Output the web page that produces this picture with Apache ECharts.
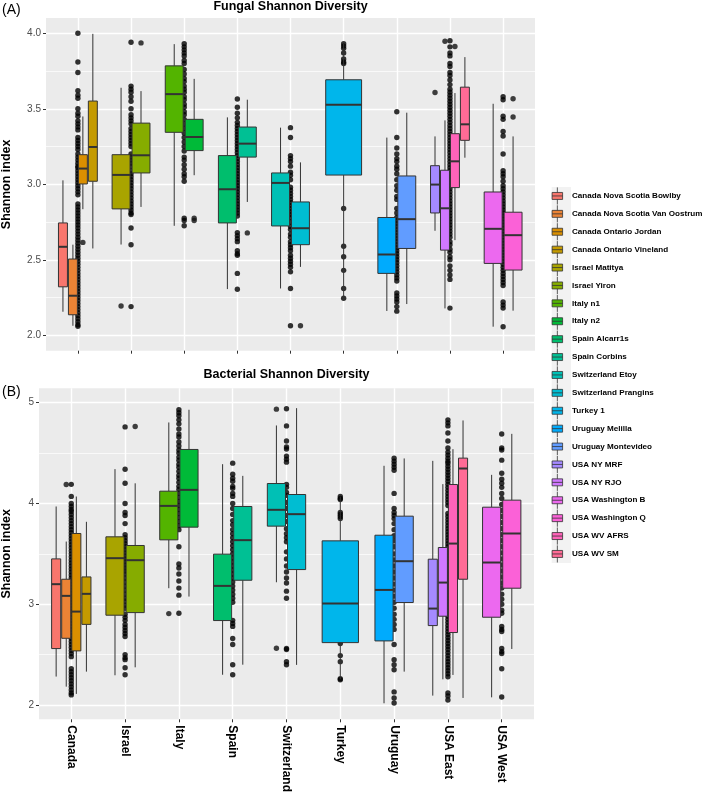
<!DOCTYPE html>
<html><head><meta charset="utf-8">
<script src="https://cdn.jsdelivr.net/npm/echarts@6/dist/echarts.min.js"></script>
<style>html,body{margin:0;padding:0;background:#fff}#c{width:709px;height:794px}</style>
</head><body><div id="c"></div>
<script>
const countries = ['Canada','Israel','Italy','Spain','Switzerland','Turkey','Uruguay','USA East','USA West'];
const sites = ['Canada Nova Scotia Bowlby','Canada Nova Scotia Van Oostrum','Canada Ontario Jordan','Canada Ontario Vineland',
  'Israel Matitya','Israel Yiron','Italy n1','Italy n2','Spain Alcarr1s','Spain Corbins','Switzerland Etoy','Switzerland Prangins',
  'Turkey 1','Uruguay Melilla','Uruguay Montevideo','USA NY MRF','USA NY RJO','USA Washington B','USA Washington Q','USA WV AFRS','USA WV SM'];
const siteCountry = [0,0,0,0,1,1,2,2,3,3,4,4,5,6,6,7,7,8,8,7,7];

const fungalTicks = [2, 2.5, 3, 3.5, 4];
const bacterialTicks = [2, 3, 4, 5];

// [lower whisker, q1, median, q3, upper whisker]
const fungalBox = [
  [2.156,2.321,2.586,2.744,3.026],[2.063,2.136,2.262,2.505,2.600],[2.835,3.002,3.104,3.196,3.449],[2.575,3.020,3.247,3.551,3.996],
  [2.601,2.837,3.062,3.196,3.639],[2.850,3.075,3.192,3.405,3.617],[2.725,3.344,3.597,3.784,3.928],[3.060,3.223,3.313,3.430,3.698],
  [2.306,2.744,2.967,3.190,3.443],[2.883,3.180,3.269,3.379,3.560],[2.310,2.724,3.009,3.075,3.375],[2.453,2.600,2.709,2.883,3.145],
  [2.245,3.061,3.527,3.692,3.930],[2.161,2.410,2.535,2.780,3.309],[2.207,2.575,2.769,3.055,3.474],[2.692,2.810,2.998,3.123,3.317],
  [2.178,2.564,2.841,3.093,3.423],[2.057,2.476,2.705,2.949,3.533],[2.163,2.432,2.663,2.815,3.317],[2.630,2.978,3.152,3.335,3.604],
  [3.176,3.291,3.397,3.643,3.842]
];
const fungalOutliers = [[],[],[2.615],[],[2.194],[3.936],[],[2.775,2.760],[],[2.678],[],[2.063],[],[],[],[3.608],[3.947],[],[3.566,3.445],[3.912],[]];
const fungalPoints = [
  [4.00,3.81,3.74,3.62,3.59,3.57,3.50,3.47,3.45,3.42,3.40,3.38,3.36,3.31,3.29,3.27,3.25,3.23,3.20,3.18,3.16,3.14,3.12,3.11,3.09,3.07,3.05,3.03,3.01,2.99,2.97,2.95,2.93,2.87,2.85,2.83,2.81,2.79,2.77,2.75,2.73,2.71,2.69,2.67,2.65,2.63,2.61,2.59,2.57,2.55,2.53,2.51,2.49,2.47,2.45,2.43,2.41,2.39,2.37,2.35,2.33,2.31,2.29,2.27,2.25,2.23,2.21,2.19,2.17,2.15,2.13,2.11,2.09,2.07,2.06],
  [3.94,3.65,3.63,3.61,3.58,3.55,3.50,3.46,3.44,3.42,3.40,3.37,3.35,3.33,3.31,3.29,3.27,3.25,3.20,3.18,3.16,3.14,3.12,3.09,3.07,3.05,3.03,3.01,2.99,2.97,2.95,2.93,2.91,2.89,2.87,2.85,2.83,2.81,2.80,2.71,2.60,2.19],
  [3.93,3.91,3.89,3.87,3.85,3.82,3.80,3.76,3.73,3.70,3.68,3.65,3.63,3.61,3.58,3.56,3.53,3.51,3.48,3.46,3.43,3.40,3.37,3.34,3.31,3.28,3.25,3.22,3.18,3.16,3.13,3.10,3.07,3.05,3.02,2.775,2.76,2.725],
  [3.565,3.51,3.47,3.44,3.41,3.39,3.37,3.35,3.33,3.31,3.29,3.27,3.25,3.23,3.21,3.19,3.17,3.15,3.13,3.11,3.09,3.07,3.05,3.03,3.01,2.99,2.97,2.95,2.93,2.91,2.89,2.87,2.85,2.83,2.81,2.79,2.68,2.66,2.64,2.62,2.56,2.54,2.53,2.41,2.305],
  [3.375,3.31,3.19,3.17,3.15,3.12,3.08,3.06,3.03,2.98,2.96,2.94,2.92,2.90,2.88,2.86,2.84,2.82,2.80,2.78,2.75,2.72,2.70,2.67,2.65,2.62,2.60,2.58,2.56,2.53,2.51,2.49,2.47,2.45,2.42,2.31,2.063],
  [3.93,3.915,3.90,3.87,3.83,3.81,3.80,3.60,3.40,3.20,2.84,2.59,2.52,2.43,2.31,2.245],
  [3.48,3.31,3.24,3.20,3.17,3.15,3.12,3.10,3.07,3.03,2.99,2.96,2.92,2.90,2.84,2.81,2.78,2.76,2.74,2.72,2.70,2.68,2.66,2.64,2.62,2.60,2.58,2.56,2.54,2.52,2.50,2.48,2.46,2.44,2.42,2.40,2.38,2.36,2.28,2.26,2.24,2.22,2.19,2.16],
  [3.95,3.91,3.87,3.85,3.80,3.78,3.74,3.72,3.69,3.66,3.63,3.61,3.59,3.57,3.55,3.53,3.51,3.49,3.47,3.45,3.43,3.41,3.39,3.37,3.35,3.33,3.31,3.29,3.27,3.25,3.23,3.21,3.19,3.17,3.15,3.13,3.11,3.09,3.07,3.05,3.03,3.01,2.99,2.97,2.95,2.93,2.91,2.89,2.87,2.85,2.83,2.81,2.79,2.77,2.75,2.73,2.71,2.69,2.67,2.65,2.62,2.60,2.57,2.55,2.52,2.50,2.46,2.43,2.40,2.37,2.18],
  [3.58,3.56,3.45,3.43,3.35,3.32,3.20,3.09,3.07,3.05,3.02,2.99,2.97,2.95,2.93,2.91,2.89,2.87,2.85,2.83,2.81,2.79,2.77,2.75,2.73,2.71,2.69,2.67,2.65,2.63,2.61,2.59,2.57,2.55,2.53,2.51,2.49,2.47,2.45,2.43,2.41,2.39,2.37,2.35,2.33,2.22,2.20,2.18,2.057]
];

const bacterialBox = [
  [2.282,2.560,3.199,3.450,3.970],[2.182,2.662,3.083,3.248,3.622],[2.110,2.537,2.927,3.702,4.069],[2.331,2.800,3.103,3.271,3.818],
  [2.295,2.891,3.457,3.669,4.341],[2.374,2.917,3.437,3.583,4.200],[3.159,3.639,3.976,4.122,4.804],[3.076,3.765,4.135,4.536,4.930],
  [2.300,2.838,3.182,3.497,4.390],[2.400,3.238,3.636,3.970,4.274],[3.218,3.775,3.937,4.198,4.774],[2.398,3.344,3.894,4.089,4.946],
  [2.255,2.619,3.007,3.629,4.069],[2.017,2.636,3.142,3.685,4.374],[2.331,3.017,3.427,3.874,4.447],[2.093,2.788,2.957,3.447,4.423],
  [2.255,2.881,3.215,3.563,4.192],[2.076,2.871,3.414,3.963,4.284],[2.556,3.159,3.702,4.033,4.691],[2.298,2.719,3.602,4.188,4.539],
  [2.070,3.248,4.347,4.450,4.824]
];
const bacterialOutliers = [[],[4.188],[],[],[],[4.764],[2.907],[],[],[],[4.936,2.563],[],[],[],[],[],[],[],[],[],[]];
const bacterialPoints = [
  [4.19,4.07,4.00,3.97,3.94,3.92,3.89,3.86,3.83,3.80,3.77,3.74,3.71,3.68,3.65,3.62,3.59,3.56,3.53,3.50,3.47,3.44,3.41,3.38,3.35,3.32,3.29,3.26,3.23,3.20,3.17,3.14,3.11,3.08,3.05,3.02,2.99,2.96,2.93,2.90,2.87,2.84,2.81,2.78,2.75,2.72,2.69,2.66,2.63,2.60,2.57,2.54,2.51,2.48,2.36,2.33,2.30,2.27,2.24,2.21,2.18,2.15,2.12,2.10],
  [4.76,4.34,4.20,4.00,3.91,3.88,3.80,3.69,3.66,3.63,3.60,3.57,3.54,3.51,3.48,3.45,3.42,3.39,3.36,3.33,3.30,3.26,3.22,3.18,3.14,3.10,3.06,3.03,2.99,2.96,2.90,2.87,2.84,2.80,2.77,2.74,2.71,2.68,2.50,2.47,2.45,2.37,2.30],
  [4.93,4.90,4.87,4.83,4.79,4.74,4.69,4.66,4.61,4.57,4.53,4.50,4.46,4.43,4.39,4.36,4.32,4.28,4.25,4.21,4.17,4.14,4.10,4.06,4.02,3.98,3.94,3.90,3.86,3.82,3.78,3.74,3.57,3.40,3.36,3.30,3.23,3.16,3.09,2.91],
  [4.40,4.29,4.25,4.22,4.17,4.15,4.10,4.07,4.00,3.95,3.89,3.83,3.79,3.74,3.70,3.66,3.62,3.58,3.54,3.50,3.46,3.42,3.38,3.34,3.30,3.26,3.22,3.18,3.14,3.10,3.06,3.02,2.84,2.81,2.78,2.66,2.60,2.40,2.30],
  [4.94,4.77,4.62,4.56,4.54,4.47,4.44,4.41,4.19,4.16,4.11,4.08,4.01,3.95,3.88,3.82,3.75,3.70,3.66,3.62,3.52,3.45,3.38,3.32,3.26,3.21,3.13,3.06,2.56,2.55,2.43,2.40],
  [4.07,4.05,4.04,3.91,3.89,3.87,3.85,3.50,3.20,2.80,2.61,2.49,2.43,2.26,2.25],
  [4.45,4.42,4.39,4.36,4.33,4.10,3.95,3.91,3.88,3.85,3.80,3.74,3.68,3.63,3.57,3.50,3.44,3.38,3.32,3.26,3.20,3.14,3.08,3.02,2.96,2.90,2.85,2.80,2.75,2.60,2.45,2.40,2.35,2.13,2.07,2.02],
  [4.83,4.80,4.77,4.70,4.62,4.55,4.51,4.48,4.45,4.42,4.40,4.37,4.34,4.31,4.28,4.25,4.22,4.19,4.16,4.13,4.10,4.07,4.04,4.01,3.98,3.90,3.87,3.84,3.81,3.78,3.75,3.72,3.69,3.66,3.63,3.60,3.57,3.54,3.51,3.48,3.45,3.42,3.39,3.36,3.33,3.30,3.27,3.24,3.21,3.18,3.15,3.12,3.09,3.06,3.03,3.00,2.97,2.94,2.91,2.88,2.85,2.82,2.79,2.76,2.73,2.70,2.67,2.64,2.61,2.58,2.55,2.52,2.49,2.46,2.43,2.40,2.37,2.34,2.31,2.28,2.12,2.09,2.05],
  [4.69,4.55,4.53,4.43,4.30,4.24,4.20,4.16,4.10,4.05,3.99,3.93,3.87,3.81,3.75,3.69,3.63,3.57,3.51,3.45,3.39,3.33,3.27,3.21,3.16,3.10,3.05,3.00,2.94,2.91,2.78,2.75,2.73,2.56,2.53,2.51,2.36,2.08]
];

// ggplot2 default hue palette (hcl, c=100, l=65)
function hcl(h) {
  const L = 65, C = 100, hr = h * Math.PI / 180;
  const U = C * Math.cos(hr), V = C * Math.sin(hr);
  const Y = Math.pow((L + 16) / 116, 3);
  const Xn = 0.95047, Yn = 1, Zn = 1.08883;
  const den = Xn + 15 * Yn + 3 * Zn, un = 4 * Xn / den, vn = 9 * Yn / den;
  const u = U / (13 * L) + un, v = V / (13 * L) + vn;
  const X = 9 * Y * u / (4 * v), Z = Y * (12 - 3 * u - 20 * v) / (4 * v);
  const lin = [3.2406*X - 1.5372*Y - 0.4986*Z, -0.9689*X + 1.8758*Y + 0.0415*Z, 0.0557*X - 0.2040*Y + 1.0570*Z];
  return '#' + lin.map(c => {
    c = c <= 0.0031308 ? 12.92 * c : 1.055 * Math.pow(c, 1 / 2.4) - 0.055;
    return Math.round(Math.max(0, Math.min(1, c)) * 255).toString(16).padStart(2, '0');
  }).join('');
}
const colors = sites.map((s, i) => hcl(15 + 360 * i / sites.length));

// dodge layout (width 0.75, padding 0.1)
const DODGE = 0.75, PAD = 0.1;
const nPer = countries.map((c, ci) => siteCountry.filter(x => x === ci).length);
const slot = siteCountry.map((ci, si) => siteCountry.slice(0, si).filter(x => x === ci).length);
function siteX(si) {
  const ci = siteCountry[si], w = DODGE / nPer[ci];
  return { x: ci + 1 - DODGE / 2 + (slot[si] + 0.5) * w, w: w * (1 - PAD) };
}

const FONT = '"Liberation Sans", Arial, Helvetica, sans-serif';
const STROKE = '#333333';

function boxSeries(g, stats) {
  return sites.map((name, si) => ({
    type: 'custom', name, xAxisIndex: g, yAxisIndex: g, z: 3,
    itemStyle: { color: colors[si] },
    encode: { x: 0, y: [1, 2, 3, 4, 5] },
    data: [[siteX(si).x].concat(stats[si])],
    renderItem(params, api) {
      const x = api.value(0), hw = siteX(si).w / 2;
      const lo = api.coord([x, api.value(1)]), q1 = api.coord([x, api.value(2)]);
      const md = api.coord([x, api.value(3)]), q3 = api.coord([x, api.value(4)]);
      const hi = api.coord([x, api.value(5)]);
      const xl = api.coord([x - hw, api.value(3)])[0], xr = api.coord([x + hw, api.value(3)])[0];
      const cx = lo[0];
      const ls = { stroke: STROKE, lineWidth: 1 };
      return { type: 'group', children: [
        { type: 'line', shape: { x1: cx, y1: hi[1], x2: cx, y2: q3[1] }, style: ls },
        { type: 'line', shape: { x1: cx, y1: q1[1], x2: cx, y2: lo[1] }, style: ls },
        { type: 'rect', shape: { x: xl, y: q3[1], width: xr - xl, height: q1[1] - q3[1] }, style: { fill: colors[si], stroke: STROKE, lineWidth: 1 } },
        { type: 'line', shape: { x1: xl, y1: md[1], x2: xr, y2: md[1] }, style: { stroke: STROKE, lineWidth: 2 } }
      ] };
    }
  }));
}
function pointSeries(g, pts) {
  const data = [];
  pts.forEach((arr, ci) => arr.forEach(v => data.push([ci + 1, v])));
  return { type: 'scatter', xAxisIndex: g, yAxisIndex: g, z: 2, symbolSize: 5.4, silent: true,
    itemStyle: { color: '#000' }, data };
}
function outlierSeries(g, outs) {
  const data = [];
  outs.forEach((arr, si) => arr.forEach(v => data.push([siteX(si).x, v])));
  return { type: 'scatter', xAxisIndex: g, yAxisIndex: g, z: 4, symbolSize: 5.4, silent: true,
    itemStyle: { color: '#111' }, data };
}

const catTicks = countries.map((c, i) => i + 1);
function xAxis(g, showLabels) {
  return {
    type: 'value', gridIndex: g, min: 0.4, max: 9.6,
    axisLine: { show: false },
    axisTick: { show: true, length: 3, customValues: catTicks, lineStyle: { color: STROKE, width: 1 } },
    axisLabel: { show: showLabels, customValues: catTicks, formatter: v => countries[Math.round(v) - 1],
      rotate: -90, margin: 6, fontSize: 12, fontWeight: 'bold', color: '#000', fontFamily: FONT },
    splitLine: { show: true, lineStyle: { color: '#fff', width: 1.4 } }
  };
}
function yAxis(g, min, max, ticks, fmt, gap) {
  return {
    type: 'value', gridIndex: g, min, max, splitNumber: 4,
    name: 'Shannon index', nameLocation: 'middle', nameGap: gap,
    nameTextStyle: { fontSize: 12.5, fontWeight: 'bold', color: '#000', fontFamily: FONT },
    axisLine: { show: false },
    axisTick: { show: true, length: 3, customValues: ticks, lineStyle: { color: STROKE, width: 1 } },
    axisLabel: { customValues: ticks, formatter: fmt, margin: 5, fontSize: 10, color: '#4D4D4D', fontFamily: FONT,
      showMinLabel: true, showMaxLabel: true },
    splitLine: { show: true, lineStyle: { color: '#fff', width: 1.4 } },
    minorTick: { show: false, splitNumber: 2 },
    minorSplitLine: { show: true, lineStyle: { color: '#fff', width: 0.7 } }
  };
}

const chart = echarts.init(document.getElementById('c'), null, { renderer: 'canvas' });
chart.setOption({
  animation: false,
  backgroundColor: '#fff',
  grid: [
    { left: 46, top: 18, width: 489, height: 332.7, show: true, backgroundColor: '#EBEBEB', borderWidth: 0, outerBoundsMode: 'none' },
    { left: 39, top: 388.3, width: 495, height: 331, show: true, backgroundColor: '#EBEBEB', borderWidth: 0, outerBoundsMode: 'none' }
  ],
  xAxis: [xAxis(0, false), xAxis(1, true)],
  yAxis: [
    yAxis(0, 1.898, 4.101, fungalTicks, v => v.toFixed(1), 33),
    yAxis(1, 1.858, 5.143, bacterialTicks, v => String(v), 26)
  ],
  legend: {
    orient: 'vertical', left: 551.7, top: 187, padding: 0, itemGap: 0,
    itemWidth: 19.3, itemHeight: 17.1, symbolKeepAspect: true, selectedMode: false, z: 5,
    icon: 'path://M5.5,0L5.5,5.3M0,5.3L11,5.3L11,12.6L0,12.6ZM0,8.95L11,8.95M5.5,12.6L5.5,17.9',
    itemStyle: { borderColor: STROKE, borderWidth: 0.8 },
    textStyle: { fontSize: 8.1, fontWeight: 'bold', color: '#000', fontFamily: FONT },
    data: sites
  },
  graphic: [
    { type: 'rect', x: 551.7, y: 187, z: 0, silent: true, shape: { width: 19.3, height: 376 }, style: { fill: '#F2F2F2' } },
    { type: 'text', x: 290.5, y: 7, style: { text: 'Fungal Shannon Diversity', textAlign: 'center', textVerticalAlign: 'middle', font: 'bold 12.5px ' + FONT, fill: '#000' } },
    { type: 'text', x: 286.5, y: 375, style: { text: 'Bacterial Shannon Diversity', textAlign: 'center', textVerticalAlign: 'middle', font: 'bold 12.5px ' + FONT, fill: '#000' } },
    { type: 'text', x: 2, y: 10, style: { text: '(A)', textAlign: 'left', textVerticalAlign: 'middle', font: '14px ' + FONT, fill: '#000' } },
    { type: 'text', x: 2, y: 392.5, style: { text: '(B)', textAlign: 'left', textVerticalAlign: 'middle', font: '14px ' + FONT, fill: '#000' } }
  ],
  series: [
    pointSeries(0, fungalPoints), pointSeries(1, bacterialPoints)
  ].concat(boxSeries(0, fungalBox), boxSeries(1, bacterialBox), [outlierSeries(0, fungalOutliers), outlierSeries(1, bacterialOutliers)])
});
</script>
</body></html>
